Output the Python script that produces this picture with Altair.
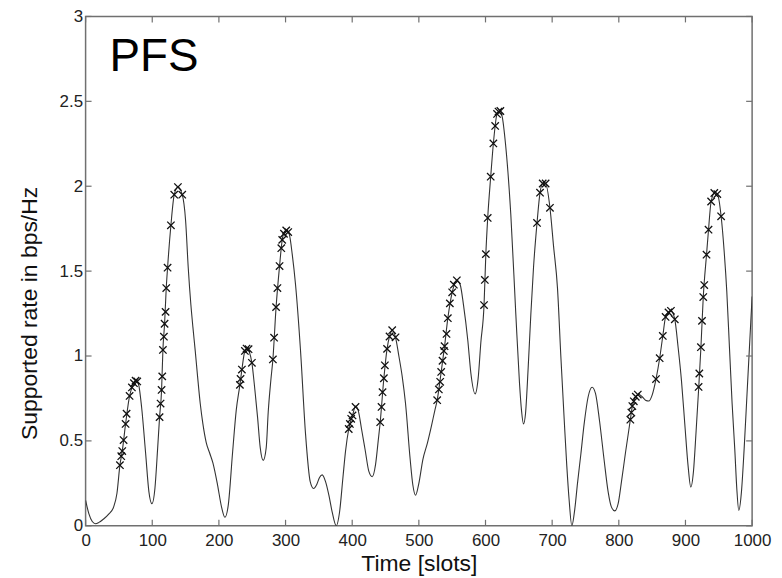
import altair as alt
import pandas as pd

# ---- data ----
curve_t = [0, 5, 10, 15, 20, 27, 35, 42, 47, 51.5, 55, 60, 66, 70, 75, 79, 84, 90, 95, 99.5,
           104, 108, 111, 114, 116, 118.5, 121, 123, 128, 133, 138.5, 145, 150, 154, 158, 161,
           164.5, 168, 172, 176, 181, 186, 191, 198, 204, 209, 214, 220.5, 226, 231.5, 234.5,
           239, 242.5,
           246, 249.5, 254, 258, 262, 266.5, 271, 274, 278, 281, 285.8, 291, 295, 299, 302, 306,
           310, 315, 322.5, 330, 337, 342, 347, 351, 355, 360, 365, 370, 376, 381, 386, 390,
           394.8, 400.5, 405, 409, 414, 419.5, 425, 430, 435, 439, 442, 447.5, 452.3, 456, 460,
           465, 470, 475, 480, 487, 491, 495, 500, 506, 513, 519, 524, 527.5, 533.5, 538.6,
           543.5, 550, 557, 562, 567, 573.5, 578, 584.5, 589, 593, 597.8, 600.5, 603.3, 607.8,
           611.8, 617.3, 621, 625, 630, 638, 645.5, 651, 654, 657, 660, 664, 668, 672, 677.3,
           681.8, 686, 690, 696.7, 702, 708, 713, 718, 722, 725.5, 729.5, 734, 738, 743, 748,
           754, 760, 765, 771, 778, 784, 789, 794, 799, 804, 810, 817.3, 820.3, 825.5, 830, 835,
           840, 845, 850, 855.8, 861.3, 866, 870.2, 875, 878.5, 884, 889, 894, 899, 904, 908,
           912, 916, 920, 923.2, 926.7, 931.6, 934.6, 938.5, 944, 948, 953.5, 958, 962, 966,
           970, 974, 977, 980, 984, 988, 992, 996, 1000]
curve_v = [0.15, 0.07, 0.025, 0.012, 0.02, 0.04, 0.07, 0.11, 0.19, 0.357, 0.44, 0.60, 0.765, 0.82,
           0.855, 0.84, 0.70, 0.43, 0.20, 0.13,
           0.22, 0.45, 0.64, 0.80, 1.036, 1.19, 1.40, 1.52, 1.77, 1.95, 1.995, 1.95, 1.80, 1.52,
           1.30, 1.17,
           1.03, 0.88, 0.72, 0.60, 0.49, 0.43, 0.37, 0.24, 0.11, 0.05, 0.12, 0.43, 0.68, 0.83,
           0.92,
           1.03, 1.045,
           1.02, 0.96, 0.80, 0.64, 0.46, 0.385, 0.46, 0.67, 0.86, 0.98, 1.288, 1.53, 1.684, 1.735,
           1.742, 1.71,
           1.60, 1.42, 1.03, 0.54, 0.26, 0.22, 0.245, 0.285, 0.30, 0.26, 0.18, 0.08, 0.0, 0.08,
           0.28, 0.44,
           0.57, 0.65, 0.705, 0.68, 0.57, 0.445, 0.32, 0.289, 0.36, 0.50, 0.61, 0.869, 1.042,
           1.115, 1.152,
           1.11, 1.0, 0.88, 0.72, 0.39, 0.24, 0.18, 0.25, 0.39, 0.49, 0.59, 0.68, 0.74, 0.906,
           1.058,
           1.223, 1.375, 1.446, 1.42, 1.30, 1.09, 0.90, 0.777, 0.87, 1.08, 1.30, 1.60, 1.813,
           2.056,
           2.252, 2.426, 2.445, 2.41, 2.25, 1.83, 1.245, 0.84, 0.68, 0.60, 0.66, 0.93, 1.245,
           1.52, 1.784,
           1.962, 2.016, 2.016, 1.873, 1.65, 1.40, 1.0, 0.63, 0.35, 0.15, 0.0, 0.10, 0.25, 0.42,
           0.60,
           0.76, 0.816, 0.78, 0.62, 0.386, 0.20, 0.11, 0.088, 0.13, 0.26, 0.43, 0.625, 0.705,
           0.76, 0.775, 0.76,
           0.74, 0.735, 0.77, 0.864, 0.987, 1.118, 1.23, 1.26, 1.266, 1.216, 1.05, 0.855, 0.60,
           0.35, 0.228,
           0.32, 0.56, 0.82, 1.052, 1.347, 1.597, 1.744, 1.91, 1.962, 1.954, 1.823, 1.62, 1.38,
           1.05,
           0.72, 0.45, 0.22, 0.09, 0.20, 0.45, 0.75, 1.05, 1.35]

marker_t = [51.5, 53.5, 55, 57, 60, 61.5, 66, 69.5, 72.5, 75, 77.5,
            111, 112.5, 114, 115, 116, 117.5, 118.5, 120, 121, 123, 128, 133, 138.5, 145,
            231.5, 232.5, 234.5, 239, 241.5, 244.5, 249.5,
            281, 282.8, 285.8, 287.8, 291, 293.6, 295, 297.6, 301, 304,
            394.8, 396.5, 398.5, 400.5, 405,
            442, 444, 445.5, 447.5, 449, 452.3, 456, 460, 465,
            527.5, 530, 532, 533.5, 535.5, 537.5, 538.6, 541.5, 543.5, 546.5, 550, 552.5, 557,
            597.8, 599, 600.5, 603.3, 607.8, 611.8, 614.5, 617.3, 619.5, 622.3,
            677.3, 681.8, 685.8, 690.2, 696.7,
            817.3, 818.8, 820.3, 822.5, 825.5, 828.5,
            855.8, 861.3, 866, 870.2, 874.5, 878.2, 884,
            919.7, 920.8, 923.2, 924.8, 926.7, 928.2, 931.6, 934.6, 938.5, 943.3, 947.8, 953.5]
marker_v = [0.357, 0.41, 0.44, 0.505, 0.60, 0.66, 0.765, 0.815, 0.84, 0.855, 0.85,
            0.64, 0.72, 0.80, 0.88, 1.036, 1.114, 1.19, 1.26, 1.40, 1.52, 1.77, 1.95, 1.995, 1.95,
            0.83, 0.865, 0.92, 1.03, 1.044, 1.04, 0.96,
            0.98, 1.108, 1.288, 1.40, 1.53, 1.635, 1.684, 1.72, 1.74, 1.73,
            0.57, 0.60, 0.63, 0.65, 0.70,
            0.61, 0.70, 0.787, 0.869, 0.945, 1.042, 1.115, 1.152, 1.11,
            0.74, 0.803, 0.848, 0.906, 0.972, 1.03, 1.058, 1.13, 1.223, 1.31, 1.375, 1.42, 1.446,
            1.30, 1.448, 1.60, 1.813, 2.056, 2.252, 2.355, 2.426, 2.44, 2.443,
            1.784, 1.962, 2.016, 2.016, 1.873,
            0.625, 0.667, 0.705, 0.733, 0.76, 0.773,
            0.864, 0.987, 1.118, 1.23, 1.257, 1.266, 1.216,
            0.818, 0.897, 1.052, 1.207, 1.347, 1.418, 1.597, 1.744, 1.91, 1.96, 1.954, 1.823]

x_tick_values = [0, 100, 200, 300, 400, 500, 600, 700, 800, 900, 1000]
y_tick_values = [0, 0.5, 1, 1.5, 2, 2.5, 3]
x_title = "Time [slots]"
y_title = "Supported rate in bps/Hz"
panel_label = "PFS"

# ---- layout / style ----
W, H = 670, 512
FONT = "Liberation Sans"
FRAME = "#707070"
TICK_LEN = 6

xs = alt.Scale(domain=[0, 1000], nice=False, zero=False)
ys = alt.Scale(domain=[0, 3], nice=False, zero=False)

curve_df = pd.DataFrame({"t": curve_t, "v": curve_v})
marker_df = pd.DataFrame({"t": marker_t, "v": marker_v})
xt_df = pd.DataFrame({"t": x_tick_values})
yt_df = pd.DataFrame({"v": y_tick_values})
lab_df = pd.DataFrame({"label": [panel_label]})

line = alt.Chart(curve_df).mark_line(
    interpolate="monotone", color="#333333", strokeWidth=1.1, clip=True
).encode(
    x=alt.X("t:Q", scale=xs, axis=alt.Axis(
        values=x_tick_values, format="d", title=x_title, grid=False, domain=False,
        ticks=False, tickSize=0, labelPadding=7, labelFont=FONT, labelFontSize=17,
        labelColor="#222222", labelFlush=False, labelOverlap=False, titleFont=FONT,
        titleFontSize=23, titleFontWeight="normal", titleColor="#111111",
        titleBaseline="alphabetic", titleY=45)),
    y=alt.Y("v:Q", scale=ys, axis=alt.Axis(
        values=y_tick_values, format="~g", title=y_title, grid=False, domain=False,
        ticks=False, tickSize=0, labelPadding=3, labelFont=FONT, labelFontSize=17,
        labelColor="#222222", labelFlush=False, labelOverlap=False, titleFont=FONT,
        titleFontSize=23, titleFontWeight="normal", titleColor="#111111",
        titleAngle=270, titleAlign="center", titleBaseline="middle",
        titleX=-56, titleY=298)),
)

markers = alt.Chart(marker_df).mark_point(
    shape="M-1,-1L1,1M1,-1L-1,1", size=55, filled=False, color="#111111",
    strokeWidth=1.3, opacity=1
).encode(
    x=alt.X("t:Q", scale=xs),
    y=alt.Y("v:Q", scale=ys),
)

xt_bottom = alt.Chart(xt_df).mark_rule(color=FRAME, strokeWidth=1.2).encode(
    x=alt.X("t:Q", scale=xs), y=alt.value(H), y2=alt.value(H - TICK_LEN))
xt_top = alt.Chart(xt_df).mark_rule(color=FRAME, strokeWidth=1.2).encode(
    x=alt.X("t:Q", scale=xs), y=alt.value(0), y2=alt.value(TICK_LEN))
yt_left = alt.Chart(yt_df).mark_rule(color=FRAME, strokeWidth=1.2).encode(
    y=alt.Y("v:Q", scale=ys), x=alt.value(0), x2=alt.value(TICK_LEN))
yt_right = alt.Chart(yt_df).mark_rule(color=FRAME, strokeWidth=1.2).encode(
    y=alt.Y("v:Q", scale=ys), x=alt.value(W - TICK_LEN), x2=alt.value(W))

label = alt.Chart(lab_df).mark_text(
    align="left", baseline="alphabetic", font=FONT, fontSize=46, color="#000000"
).encode(x=alt.value(24), y=alt.value(55), text="label:N")

chart = alt.layer(line, markers, xt_bottom, xt_top, yt_left, yt_right, label).properties(
    width=W, height=H,
    autosize=alt.AutoSizeParams(type="none"),
    padding={"left": 78, "top": 7, "right": 22, "bottom": 52},
    background="white",
).configure_view(stroke=FRAME, strokeWidth=1.5)

chart.save("out.html", embed_options={"renderer": "svg", "actions": False})
